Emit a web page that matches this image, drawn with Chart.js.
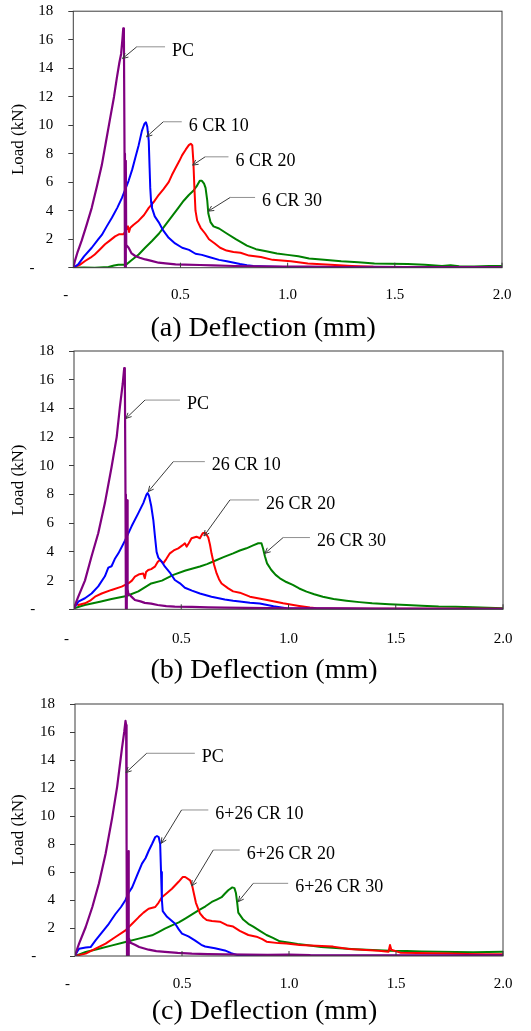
<!DOCTYPE html>
<html><head><meta charset="utf-8">
<script src="https://cdn.jsdelivr.net/npm/chart.js@4.4.1/dist/chart.umd.min.js"></script>
<style>
html,body{margin:0;padding:0;background:#fff;}
body{width:531px;height:1031px;position:relative;overflow:hidden;}
canvas{position:absolute;left:0;}
</style></head><body>
<canvas id="ca" width="531" height="346" style="top:0px;width:531px;height:346px"></canvas>
<canvas id="cb" width="531" height="350" style="top:340px;width:531px;height:350px"></canvas>
<canvas id="cc" width="531" height="351" style="top:680px;width:531px;height:351px"></canvas>
<script>
// ---------- tick labels / categories ----------
const xTickValues = [0, 0.5, 1.0, 1.5, 2.0];
const xTickLabels = ['-    ', '0.5', '1.0', '1.5', '2.0'];
const yTickValues = [0, 2, 4, 6, 8, 10, 12, 14, 16, 18];
const yTickLabels = ['-     ', '2', '4', '6', '8', '10', '12', '14', '16', '18'];
const panelTitles = ['(a) Deflection (mm)', '(b) Deflection (mm)', '(c) Deflection (mm)'];
const yTitle = 'Load (kN)';
const seriesNamesA = ['PC', '6 CR 10', '6 CR 20', '6 CR 30'];
const seriesNamesB = ['PC', '26 CR 10', '26 CR 20', '26 CR 30'];
const seriesNamesC = ['PC', '6+26 CR 10', '6+26 CR 20', '6+26 CR 30'];

// ---------- panel (a) series: [deflection mm, load kN] ----------
const a_PC = [[0,0],[0.008,0.5],[0.02,1.1],[0.039,1.9],[0.06,2.9],[0.086,4.2],[0.11,5.7],[0.133,7.2],[0.152,8.8],[0.172,10.5],[0.19,12.0],[0.203,13.3],[0.215,14.4],[0.223,15.0],[0.229,16.0],[0.233,16.8],[0.236,16.6],[0.239,8.0],[0.241,0],[0.244,0],[0.245,7.5],[0.247,1.6],[0.258,1.4],[0.272,1.0],[0.289,0.82],[0.31,0.7],[0.336,0.58],[0.36,0.5],[0.398,0.35],[0.43,0.3],[0.477,0.23],[0.52,0.22],[0.59,0.19],[0.65,0.16],[0.75,0.12],[0.85,0.09],[0.98,0.07],[1.1,0.08],[1.25,0.05],[1.4,0.06],[1.55,0.04],[1.7,0.05],[1.85,0.04],[2.0,0.05]];
const a_CR10 = [[0,0],[0.023,0.23],[0.05,0.8],[0.086,1.4],[0.117,2.0],[0.133,2.3],[0.156,2.9],[0.18,3.5],[0.205,4.2],[0.227,4.9],[0.258,6.1],[0.275,6.9],[0.289,7.7],[0.305,8.6],[0.32,9.6],[0.332,10.1],[0.339,10.2],[0.345,9.9],[0.352,8.9],[0.356,7.0],[0.359,5.6],[0.363,4.6],[0.367,4.2],[0.38,3.6],[0.398,3.2],[0.42,2.6],[0.445,2.1],[0.475,1.7],[0.508,1.4],[0.54,1.25],[0.57,0.98],[0.6,0.9],[0.633,0.75],[0.68,0.55],[0.716,0.45],[0.75,0.35],[0.778,0.26],[0.81,0.18],[0.84,0.12],[0.9,0.08],[0.98,0.05],[1.1,0.03],[1.3,0.02],[1.6,0.02],[2.0,0.02]];
const a_CR20 = [[0,0],[0.03,0.2],[0.055,0.47],[0.08,0.7],[0.1,0.93],[0.125,1.3],[0.148,1.64],[0.17,1.9],[0.195,2.2],[0.215,2.35],[0.234,2.35],[0.245,2.6],[0.255,2.9],[0.26,2.5],[0.266,2.8],[0.28,3.0],[0.305,3.3],[0.33,3.7],[0.352,4.2],[0.375,4.6],[0.398,5.1],[0.42,5.5],[0.445,6.0],[0.46,6.5],[0.477,7.0],[0.495,7.5],[0.508,7.9],[0.525,8.3],[0.539,8.6],[0.548,8.7],[0.555,8.6],[0.56,7.5],[0.565,5.6],[0.57,4.0],[0.578,3.3],[0.594,2.8],[0.615,2.4],[0.633,2.0],[0.66,1.7],[0.685,1.4],[0.715,1.2],[0.747,1.1],[0.78,1.05],[0.82,0.85],[0.875,0.75],[0.93,0.55],[1.015,0.45],[1.094,0.3],[1.2,0.2],[1.3,0.12],[1.4,0.07],[1.6,0.05],[1.8,0.04],[2.0,0.03]];
const a_CR30 = [[0,0],[0.05,0.02],[0.1,0.0],[0.164,0.05],[0.19,0.15],[0.21,0.2],[0.245,0.2],[0.27,0.5],[0.305,0.93],[0.335,1.4],[0.367,1.87],[0.4,2.4],[0.43,3.0],[0.46,3.6],[0.49,4.2],[0.515,4.7],[0.539,5.1],[0.56,5.4],[0.575,5.7],[0.59,6.1],[0.6,6.1],[0.61,5.9],[0.617,5.6],[0.625,4.7],[0.63,3.8],[0.64,3.2],[0.654,2.9],[0.68,2.75],[0.716,2.4],[0.758,2.0],[0.81,1.55],[0.852,1.3],[0.9,1.15],[0.95,1.0],[1.0,0.9],[1.05,0.8],[1.1,0.65],[1.17,0.55],[1.25,0.45],[1.33,0.38],[1.405,0.3],[1.48,0.28],[1.56,0.26],[1.64,0.2],[1.72,0.12],[1.76,0.17],[1.8,0.1],[1.87,0.08],[1.94,0.12],[2.0,0.12]];

// ---------- panel (b) series ----------
const b_PC = [[0,0],[0.01,0.5],[0.02,0.88],[0.051,2.0],[0.082,3.7],[0.113,5.3],[0.144,7.4],[0.175,9.9],[0.199,12.0],[0.214,14.1],[0.227,15.7],[0.234,16.8],[0.237,16.5],[0.24,8.0],[0.242,0],[0.246,0],[0.248,7.6],[0.25,1.4],[0.253,1.1],[0.27,0.85],[0.284,0.65],[0.31,0.55],[0.33,0.45],[0.36,0.4],[0.39,0.3],[0.43,0.22],[0.47,0.19],[0.55,0.17],[0.626,0.14],[0.7,0.12],[0.8,0.1],[0.9,0.09],[1.0,0.07],[1.2,0.06],[1.4,0.05],[1.6,0.05],[1.8,0.04],[2.0,0.04]];
const b_CR10 = [[0,0.1],[0.01,0.3],[0.02,0.53],[0.051,0.77],[0.082,1.1],[0.113,1.6],[0.144,2.3],[0.16,2.9],[0.175,3.0],[0.19,3.5],[0.207,3.9],[0.238,4.8],[0.269,5.8],[0.3,6.7],[0.323,7.4],[0.338,8.0],[0.343,8.1],[0.35,7.9],[0.36,7.2],[0.37,6.2],[0.378,5.0],[0.385,4.0],[0.393,3.6],[0.41,3.3],[0.424,2.97],[0.45,2.5],[0.47,2.04],[0.494,1.81],[0.517,1.5],[0.55,1.3],[0.587,1.1],[0.641,0.88],[0.703,0.68],[0.742,0.6],[0.773,0.55],[0.82,0.45],[0.866,0.4],[0.93,0.22],[0.96,0.15],[0.99,0.07],[1.05,0.05],[1.2,0.03],[1.5,0.02],[2.0,0.02]];
const b_CR20 = [[0,0.15],[0.01,0.4],[0.02,0.3],[0.051,0.42],[0.075,0.6],[0.098,0.88],[0.129,1.1],[0.175,1.35],[0.222,1.58],[0.253,1.8],[0.27,2.0],[0.284,2.28],[0.305,2.45],[0.323,2.5],[0.33,2.16],[0.336,2.6],[0.346,2.74],[0.36,2.8],[0.377,2.97],[0.39,3.3],[0.4,3.44],[0.416,3.2],[0.43,3.5],[0.447,3.9],[0.465,4.1],[0.486,4.25],[0.505,4.45],[0.517,4.6],[0.525,4.37],[0.535,4.6],[0.548,4.95],[0.571,5.06],[0.587,4.95],[0.6,5.3],[0.61,5.34],[0.618,5.2],[0.626,5.0],[0.634,4.5],[0.641,3.9],[0.653,3.1],[0.665,2.5],[0.676,2.1],[0.688,1.8],[0.719,1.46],[0.742,1.25],[0.773,1.16],[0.82,0.88],[0.9,0.65],[0.975,0.42],[1.05,0.23],[1.1,0.12],[1.13,0.07],[1.2,0.05],[1.4,0.04],[1.7,0.03],[2.0,0.03]];
const b_CR30 = [[0,0.07],[0.05,0.3],[0.121,0.53],[0.175,0.72],[0.245,0.93],[0.3,1.25],[0.36,1.8],[0.41,2.0],[0.463,2.4],[0.52,2.7],[0.587,2.98],[0.62,3.15],[0.649,3.33],[0.7,3.65],[0.742,3.9],[0.773,4.1],[0.804,4.25],[0.835,4.45],[0.859,4.6],[0.874,4.6],[0.882,4.2],[0.89,3.7],[0.9,3.2],[0.92,2.74],[0.94,2.4],[0.96,2.16],[0.99,1.9],[1.02,1.7],[1.05,1.45],[1.084,1.23],[1.12,1.05],[1.16,0.88],[1.21,0.72],[1.27,0.6],[1.33,0.5],[1.39,0.42],[1.47,0.35],[1.55,0.3],[1.62,0.25],[1.7,0.19],[1.78,0.17],[1.86,0.14],[1.93,0.1],[2.0,0.07]];

// ---------- panel (c) series ----------
const c_PC = [[0,0],[0.01,0.5],[0.019,0.88],[0.05,2.07],[0.081,3.5],[0.112,5.2],[0.143,7.3],[0.174,9.9],[0.197,12.1],[0.22,14.9],[0.23,16.0],[0.236,16.8],[0.239,16.5],[0.241,8.0],[0.243,0],[0.248,0],[0.25,7.5],[0.252,1.3],[0.259,0.95],[0.28,0.8],[0.3,0.64],[0.32,0.55],[0.344,0.45],[0.38,0.35],[0.42,0.29],[0.48,0.22],[0.546,0.17],[0.62,0.14],[0.7,0.12],[0.8,0.1],[0.9,0.08],[1.0,0.1],[1.1,0.06],[1.3,0.05],[1.5,0.05],[1.7,0.04],[2.0,0.04]];
const c_CR10 = [[0,0],[0.01,0.3],[0.019,0.52],[0.05,0.6],[0.073,0.64],[0.096,1.12],[0.127,1.71],[0.158,2.3],[0.189,3.0],[0.215,3.5],[0.236,4.0],[0.25,4.5],[0.267,4.9],[0.29,5.76],[0.313,6.6],[0.33,7.0],[0.344,7.5],[0.36,8.0],[0.375,8.5],[0.383,8.57],[0.391,8.5],[0.398,8.0],[0.402,6.0],[0.406,4.0],[0.41,3.2],[0.43,2.8],[0.468,2.3],[0.485,1.9],[0.5,1.6],[0.53,1.4],[0.56,1.12],[0.59,0.8],[0.608,0.68],[0.654,0.55],[0.7,0.4],[0.73,0.2],[0.76,0.06],[0.8,0.03],[1.0,0.02],[1.5,0.02],[2.0,0.02]];
const c_CR20 = [[0,0],[0.05,0.17],[0.096,0.52],[0.143,0.88],[0.189,1.36],[0.236,1.83],[0.267,2.3],[0.298,2.78],[0.32,3.1],[0.344,3.38],[0.375,3.5],[0.39,3.8],[0.406,4.2],[0.43,4.5],[0.453,4.8],[0.484,5.3],[0.503,5.64],[0.515,5.64],[0.538,5.4],[0.548,5.0],[0.555,4.5],[0.565,3.8],[0.584,3.05],[0.6,2.75],[0.615,2.57],[0.64,2.5],[0.677,2.45],[0.71,2.2],[0.739,2.1],[0.77,1.8],[0.81,1.5],[0.848,1.38],[0.875,1.2],[0.895,1.02],[0.95,0.92],[0.988,0.9],[1.05,0.79],[1.1,0.75],[1.206,0.67],[1.28,0.5],[1.36,0.43],[1.42,0.38],[1.465,0.31],[1.472,0.78],[1.478,0.45],[1.52,0.24],[1.6,0.22],[1.67,0.19],[1.75,0.17],[1.83,0.14],[1.92,0.13],[2.0,0.12]];
const c_CR30 = [[0,0],[0.05,0.29],[0.112,0.52],[0.174,0.76],[0.236,1.0],[0.298,1.24],[0.36,1.48],[0.39,1.71],[0.42,1.95],[0.453,2.19],[0.485,2.4],[0.515,2.67],[0.545,2.95],[0.577,3.26],[0.61,3.55],[0.639,3.86],[0.665,4.05],[0.685,4.2],[0.7,4.45],[0.716,4.7],[0.735,4.9],[0.745,4.85],[0.752,4.5],[0.758,3.8],[0.763,3.1],[0.786,2.6],[0.81,2.3],[0.833,2.1],[0.864,1.8],[0.895,1.5],[0.925,1.3],[0.957,1.05],[1.004,0.95],[1.04,0.85],[1.08,0.79],[1.15,0.65],[1.237,0.55],[1.31,0.48],[1.39,0.43],[1.47,0.38],[1.55,0.36],[1.62,0.33],[1.7,0.31],[1.78,0.28],[1.86,0.26],[1.93,0.29],[2.0,0.31]];

// ---------- annotation anchors (data units): arrow tip, elbow, end of horizontal leader ----------
const notesA = [
  {tip:[0.230,14.68], elbow:[0.296,15.5], endX:0.428},
  {tip:[0.342,9.19], elbow:[0.42,10.24], endX:0.506},
  {tip:[0.557,7.2], elbow:[0.615,7.78], endX:0.724},
  {tip:[0.63,3.97], elbow:[0.732,4.93], endX:0.848}
];
const notesB = [
  {tip:[0.242,13.3], elbow:[0.331,14.58], endX:0.494},
  {tip:[0.346,8.2], elbow:[0.463,10.29], endX:0.61},
  {tip:[0.606,5.11], elbow:[0.727,7.62], endX:0.863},
  {tip:[0.89,3.9], elbow:[0.975,5.0], endX:1.10}
];
const notesC = [
  {tip:[0.238,13.1], elbow:[0.335,14.48], endX:0.56},
  {tip:[0.403,8.05], elbow:[0.498,10.43], endX:0.623},
  {tip:[0.545,5.0], elbow:[0.646,7.57], endX:0.77},
  {tip:[0.763,3.88], elbow:[0.833,5.19], endX:0.996}
];

const FONT = "'Liberation Serif','Times New Roman',serif";
const COLORS = ['#800080', '#0000FF', '#FF0000', '#008000'];

const noteStore = {};
const frame = {
  id: 'frame',
  afterDraw(chart) {
    const {ctx, chartArea: a, scales: {x, y}} = chart;
    ctx.save();
    ctx.strokeStyle = '#3c3c3c';
    ctx.lineWidth = 1;
    ctx.strokeRect(a.left, a.top, a.right - a.left, a.bottom - a.top);
    // inward x ticks
    ctx.beginPath();
    for (const v of xTickValues) {
      if (v === 0) continue;
      const px = x.getPixelForValue(v);
      ctx.moveTo(px, a.bottom);
      ctx.lineTo(px, a.bottom - 5);
    }
    ctx.stroke();
    // annotations
    const info = noteStore[chart.canvas.id];
    info.notes.forEach((n, i) => {
      const tx = x.getPixelForValue(n.tip[0]), ty = y.getPixelForValue(n.tip[1]);
      const ex = x.getPixelForValue(n.elbow[0]), ey = y.getPixelForValue(n.elbow[1]);
      const hx = x.getPixelForValue(n.endX);
      ctx.strokeStyle = '#909090';
      ctx.beginPath(); ctx.moveTo(ex, ey); ctx.lineTo(hx, ey); ctx.stroke();
      ctx.strokeStyle = '#3a3a3a';
      ctx.beginPath(); ctx.moveTo(ex, ey); ctx.lineTo(tx, ty); ctx.stroke();
      const ang = Math.atan2(ey - ty, ex - tx);
      const L = 6, w = 0.45;
      ctx.beginPath();
      ctx.moveTo(tx + L * Math.cos(ang + w), ty + L * Math.sin(ang + w));
      ctx.lineTo(tx, ty);
      ctx.lineTo(tx + L * Math.cos(ang - w), ty + L * Math.sin(ang - w));
      ctx.stroke();
      ctx.fillStyle = '#000';
      ctx.font = '18px ' + FONT;
      ctx.textBaseline = 'middle';
      ctx.textAlign = 'left';
      ctx.fillText(info.names[i], hx + 7, ey + 4);
    });
    ctx.restore();
  }
};

function build(id, geo, series, names, notes, title) {
  noteStore[id] = {notes, names};
  const datasets = series.map((s, i) => ({
    label: names[i],
    data: s.map(p => ({x: p[0], y: p[1]})),
    borderColor: COLORS[i],
    backgroundColor: COLORS[i],
    borderWidth: i === 0 ? 2.2 : 2,
    pointRadius: 0,
    showLine: true,
    fill: false,
    tension: 0,
    borderJoinStyle: 'round'
  }));
  return new Chart(document.getElementById(id), {
    type: 'scatter',
    data: {datasets},
    plugins: [frame],
    options: {
      responsive: false,
      animation: false,
      devicePixelRatio: 1,
      layout: {padding: {top: geo.top, right: 531 - geo.right, bottom: 0, left: 0}},
      plugins: {legend: {display: false}, tooltip: {enabled: false}},
      scales: {
        x: {
          type: 'linear', min: 0, max: 2,
          afterBuildTicks: s => { s.ticks = xTickValues.map(v => ({value: v})); },
          ticks: {
            callback: (v) => xTickLabels[xTickValues.indexOf(v)],
            font: {family: FONT, size: 15}, color: '#000',
            padding: geo.xpad, maxRotation: 0, autoSkip: false
          },
          grid: {display: false, drawTicks: false},
          border: {display: false},
          title: {display: true, text: title + '\u00a0\u00a0\u00a0\u00a0\u00a0\u00a0\u00a0', color: '#000',
                  font: {family: FONT, size: 28, lineHeight: 0.6}, padding: {top: 0, bottom: geo.tpad}},
          afterFit: s => { s.height = geo.H - geo.bottom; s.paddingLeft = 0; s.paddingRight = 0; }
        },
        y: {
          type: 'linear', min: 0, max: 18,
          afterBuildTicks: s => { s.ticks = yTickValues.map(v => ({value: v})); },
          ticks: {
            callback: (v) => yTickLabels[yTickValues.indexOf(v)],
            font: {family: FONT, size: 15}, color: '#000', padding: 15, autoSkip: false
          },
          grid: {display: true, drawOnChartArea: false, drawTicks: true, tickLength: 5, color: '#3c3c3c'},
          border: {display: false},
          title: {display: true, text: yTitle, color: '#000',
                  font: {family: FONT, size: 17, lineHeight: 1}, padding: {top: 10.5, bottom: 0}},
          afterFit: s => { s.width = geo.left; s.paddingTop = 0; s.paddingBottom = 0; }
        }
      }
    }
  });
}

build('ca', {H: 346, top: 11.2, left: 73.3, right: 502, bottom: 267.7, xpad: 18.3, tpad: 9.3},
      [a_PC, a_CR10, a_CR20, a_CR30], seriesNamesA, notesA, panelTitles[0]);
build('cb', {H: 350, top: 11, left: 74, right: 503, bottom: 269.3, xpad: 20.7, tpad: 11.1},
      [b_PC, b_CR10, b_CR20, b_CR30], seriesNamesB, notesB, panelTitles[1]);
build('cc', {H: 351, top: 24, left: 75, right: 503, bottom: 276, xpad: 19, tpad: 10.9},
      [c_PC, c_CR10, c_CR20, c_CR30], seriesNamesC, notesC, panelTitles[2]);
</script>
</body></html>
